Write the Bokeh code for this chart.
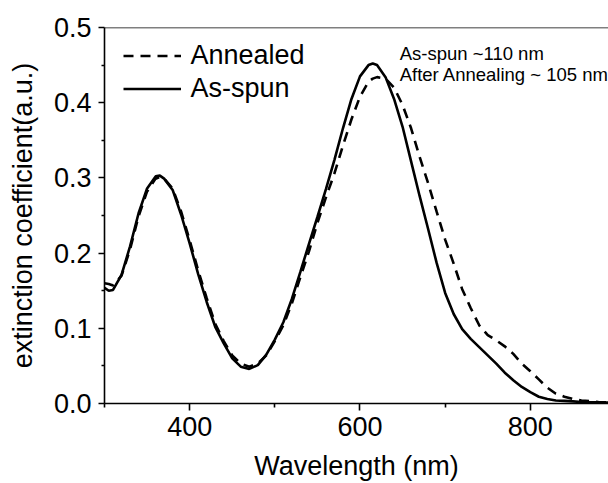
from bokeh.plotting import figure
from bokeh.models import (ColumnDataSource, Legend, LegendItem, FixedTicker,
                          Label, Span, PrintfTickFormatter, Range1d)
from bokeh.embed import file_html
from bokeh.resources import INLINE

# Wavelength grid (nm)
wavelength = [300, 305, 310, 320, 330, 340, 350, 360, 365, 370, 380, 390, 400,
              410, 420, 430, 440, 450, 460, 470, 480, 490, 500, 510, 520, 530,
              540, 550, 560, 570, 580, 590, 600, 610, 615, 620, 630, 640, 650,
              660, 670, 680, 690, 700, 710, 720, 730, 740, 750, 760, 770, 780,
              790, 800, 810, 820, 830, 840, 850, 860, 870, 880, 892]

# As-spun (solid)
as_spun = [0.154, 0.150, 0.151, 0.171, 0.209, 0.253, 0.286, 0.302, 0.303,
           0.299, 0.284, 0.251, 0.213, 0.172, 0.135, 0.102, 0.080, 0.060,
           0.049, 0.046, 0.051, 0.065, 0.085, 0.108, 0.139, 0.175, 0.212,
           0.248, 0.285, 0.324, 0.366, 0.405, 0.435, 0.450, 0.452, 0.450,
           0.434, 0.405, 0.368, 0.322, 0.276, 0.232, 0.187, 0.147, 0.119,
           0.099, 0.086, 0.075, 0.064, 0.053, 0.041, 0.031, 0.022, 0.015,
           0.009, 0.006, 0.004, 0.0035, 0.0028, 0.002, 0.0017, 0.0015, 0.0013]

# Annealed (dashed)
annealed = [0.160, 0.159, 0.157, 0.170, 0.205, 0.249, 0.282, 0.299, 0.301,
            0.299, 0.286, 0.255, 0.217, 0.177, 0.140, 0.106, 0.083, 0.064,
            0.053, 0.049, 0.053, 0.064, 0.083, 0.104, 0.133, 0.168, 0.202,
            0.240, 0.274, 0.306, 0.343, 0.378, 0.408, 0.428, 0.432, 0.434,
            0.432, 0.420, 0.397, 0.366, 0.328, 0.293, 0.255, 0.218, 0.186,
            0.152, 0.127, 0.104, 0.091, 0.084, 0.076, 0.066, 0.053, 0.043,
            0.032, 0.021, 0.013, 0.009, 0.006, 0.004, 0.003, 0.002, 0.0015]

x_ticks = [400, 600, 800]
x_minor = [300, 500, 700, 900]
y_ticks = [0.0, 0.1, 0.2, 0.3, 0.4, 0.5]
y_minor = [0.05, 0.15, 0.25, 0.35, 0.45]

annot_lines = ["As-spun  ~110 nm", "After Annealing ~ 105 nm"]

FONT = "Liberation Sans"

src = ColumnDataSource(dict(x=wavelength, s=as_spun, a=annealed))

p = figure(width=608, height=483, output_backend="svg", toolbar_location=None,
           x_range=Range1d(300, 891.8), y_range=Range1d(0, 0.5),
           min_border_left=104, min_border_right=0, min_border_top=27,
           min_border_bottom=80)
p.outline_line_color = None
p.grid.visible = False
p.background_fill_color = "white"
p.border_fill_color = "white"

r_ann = p.line("x", "a", source=src, line_color="black", line_width=2.6,
               line_dash="10 7")
r_spun = p.line("x", "s", source=src, line_color="black", line_width=2.6)

top = Span(location=0.5, dimension="width", line_color="black", line_width=1.6)
p.add_layout(top)

for ax in (p.xaxis[0], p.yaxis[0]):
    ax.axis_line_width = 1.6
    ax.major_tick_line_width = 1.6
    ax.minor_tick_line_width = 1.6
    ax.major_tick_in = 0
    ax.minor_tick_in = 0
    ax.major_label_text_font = FONT
    ax.major_label_text_font_size = "27px"
    ax.major_label_text_color = "black"
    ax.axis_label_text_font = FONT
    ax.axis_label_text_font_size = "27px"
    ax.axis_label_text_font_style = "normal"
    ax.axis_label_text_color = "black"

p.xaxis.ticker = FixedTicker(ticks=x_ticks, minor_ticks=x_minor)
p.xaxis.major_tick_out = 7
p.xaxis.minor_tick_out = 4
p.xaxis.axis_label = "Wavelength (nm)"
p.xaxis.major_label_standoff = 6
p.xaxis.axis_label_standoff = 12

p.yaxis.ticker = FixedTicker(ticks=y_ticks, minor_ticks=y_minor)
p.yaxis.formatter = PrintfTickFormatter(format="%.1f")
p.yaxis.major_tick_out = 6
p.yaxis.minor_tick_out = 3
p.yaxis.axis_label = "extinction coefficient(a.u.)"
p.yaxis.major_label_standoff = 7
p.yaxis.axis_label_standoff = 13

legend = Legend(items=[LegendItem(label="Annealed", renderers=[r_ann]),
                       LegendItem(label="As-spun", renderers=[r_spun])],
                location=(18.5, 298), orientation="vertical",
                border_line_color=None, background_fill_alpha=0,
                padding=0, margin=0, spacing=0,
                glyph_width=58, glyph_height=33, label_height=33,
                label_standoff=10,
                label_text_font=FONT, label_text_font_size="27px",
                label_text_color="black")
p.add_layout(legend)

for i, txt in enumerate(annot_lines):
    p.add_layout(Label(x=646.6, y=0.466 - 0.029 * i, text=txt,
                       text_font=FONT, text_font_size="18.5px",
                       text_color="black", text_baseline="alphabetic"))

open("out.html", "w").write(file_html(p, INLINE))
